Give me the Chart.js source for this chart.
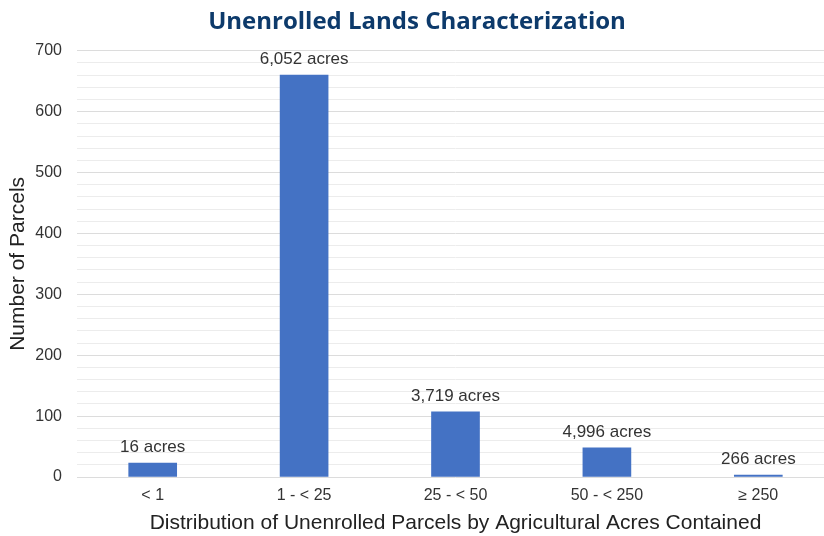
<!DOCTYPE html>
<html>
<head>
<meta charset="utf-8">
<script src="https://cdn.jsdelivr.net/npm/chart.js@4/dist/chart.umd.min.js"></script>
<style>
  html, body { margin: 0; padding: 0; background: #ffffff; overflow: hidden; }
  #wrap { position: relative; width: 834px; height: 536px; }
</style>
</head>
<body>
<div id="wrap"><canvas id="chart"></canvas></div>
<script>
// Parcel-size classes and how many unenrolled parcels fall into each
const categories = ['< 1', '1 - < 25', '25 - < 50', '50 - < 250', '\u2265 250'];
const parcelCounts = [23, 660, 107, 48, 2];
// Total agricultural acres held by the parcels in each class
const acreLabels = ['16 acres', '6,052 acres', '3,719 acres', '4,996 acres', '266 acres'];
const yTicks = [0, 100, 200, 300, 400, 500, 600, 700];

const BAR_BLUE = '#4472c4';
const TEXT = '#333333';
const SANS = '"Liberation Sans", Arial, sans-serif';

// Writes the acreage total above each bar
const acreLabelPlugin = {
  id: 'acreLabels',
  afterDatasetsDraw(chart) {
    const ctx = chart.ctx;
    const meta = chart.getDatasetMeta(0);
    ctx.save();
    ctx.font = '17px ' + SANS;
    ctx.fillStyle = TEXT;
    ctx.textAlign = 'center';
    ctx.textBaseline = 'bottom';
    meta.data.forEach((bar, i) => {
      ctx.fillText(acreLabels[i], bar.x, bar.y - 7);
    });
    ctx.restore();
  }
};

new Chart(document.getElementById('chart'), {
  type: 'bar',
  data: {
    labels: categories,
    datasets: [{
      data: parcelCounts,
      backgroundColor: BAR_BLUE,
      barThickness: 48,
      minBarLength: 2
    }]
  },
  options: {
    responsive: true,
    maintainAspectRatio: false,
    animation: false,
    layout: { padding: { left: 0, right: 0, top: 0, bottom: 0 } },
    plugins: {
      legend: { display: false },
      tooltip: { enabled: false },
      title: {
        display: true,
        text: 'Unenrolled Lands Characterization',
        color: '#0d3a6b',
        font: { family: '"Open Sans", "Noto Sans", sans-serif', size: 24, weight: 'bold', lineHeight: 1.2 },
        padding: { top: 8, bottom: 14 }
      }
    },
    scales: {
      x: {
        grid: { display: false, drawTicks: false },
        border: { display: false },
        ticks: {
          color: TEXT,
          font: { family: SANS, size: 16 },
          padding: 9,
          maxRotation: 0
        },
        title: {
          display: true,
          text: 'Distribution of Unenrolled Parcels by Agricultural Acres Contained',
          color: '#222222',
          font: { family: SANS, size: 21 },
          padding: { top: 3, bottom: 0 }
        },
        afterFit(scale) { scale.height = 59; }
      },
      y: {
        min: 0,
        max: 700,
        grid: {
          drawTicks: false,
          color: (c) => (c.tick && c.tick.value % 100 === 0) ? '#dcdcdc' : '#ececec',
          lineWidth: 1
        },
        border: { display: false },
        ticks: {
          stepSize: 20,
          color: TEXT,
          font: { family: SANS, size: 16 },
          padding: 15,
          autoSkip: false,
          callback: (v) => yTicks.includes(v) ? String(v) : ''
        },
        title: {
          display: true,
          text: 'Number of Parcels',
          color: '#222222',
          font: { family: SANS, size: 21 },
          padding: { top: 6, bottom: 0 }
        },
        afterFit(scale) { scale.width = 77; }
      }
    }
  },
  plugins: [acreLabelPlugin]
});
</script>
</body>
</html>
